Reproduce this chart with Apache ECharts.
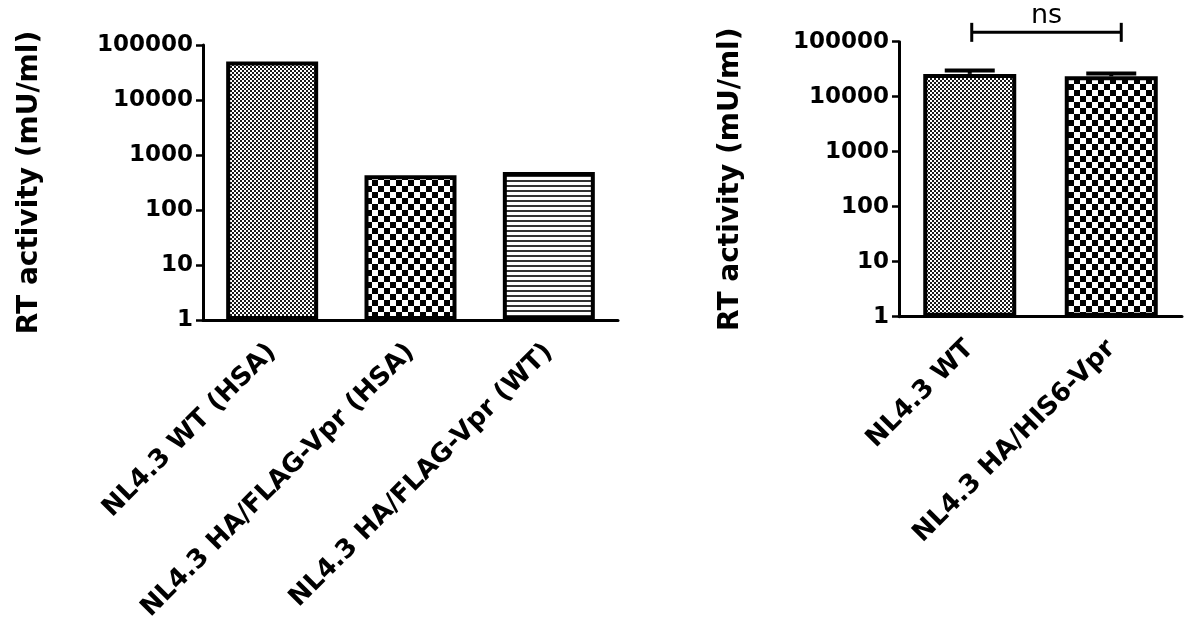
<!DOCTYPE html>
<html>
<head>
<meta charset="utf-8">
<script src="https://cdn.jsdelivr.net/npm/echarts@6/dist/echarts.min.js"></script>
<style>
  html, body { margin: 0; padding: 0; background: #fff; }
  #chart { width: 1185px; height: 626px; }
</style>
</head>
<body>
<div id="chart"></div>
<script>
// data
var leftCategories = ['NL4.3 WT (HSA)', 'NL4.3 HA/FLAG-Vpr (HSA)', 'NL4.3 HA/FLAG-Vpr (WT)'];
var leftValues = [50000, 430, 490];
var rightCategories = ['NL4.3 WT', 'NL4.3 HA/HIS6-Vpr'];
var rightValues = [26000, 23500];
var rightErrorTop = [30000, 26500];
var yTickLabels = ['1', '10', '100', '1000', '10000', '100000'];
var bracketLevel = 148000;
var bracketText = 'ns';
var yName = 'RT activity (mU/ml)';

var FONT = 'DejaVu Sans';

// fill patterns drawn on small canvases
function makeTile(w, h, draw) {
  var c = document.createElement('canvas');
  c.width = w; c.height = h;
  var ctx = c.getContext('2d');
  ctx.fillStyle = '#fff';
  ctx.fillRect(0, 0, w, h);
  draw(ctx);
  return c;
}
var fineChecker = makeTile(4, 4, function (ctx) {
  ctx.fillStyle = '#1a1a1a';
  ctx.fillRect(0, 0, 2, 2);
  ctx.fillRect(2, 2, 2, 2);
});
var coarseChecker = makeTile(12, 12, function (ctx) {
  ctx.fillStyle = '#000';
  ctx.fillRect(0, 0, 6, 6);
  ctx.fillRect(6, 6, 6, 6);
});
var hLines = makeTile(6, 5, function (ctx) {
  ctx.fillStyle = '#333';
  ctx.fillRect(0, 0, 6, 2);
});
function pat(c) { return { image: c, repeat: 'repeat' }; }
var leftPatterns = [fineChecker, coarseChecker, hLines];
var rightPatterns = [fineChecker, coarseChecker];

var chart = echarts.init(document.getElementById('chart'));

function xAxisFor(idx, cats) {
  return {
    type: 'category', gridIndex: idx, data: cats,
    axisLine: { lineStyle: { color: '#000', width: 3 } },
    axisTick: { alignWithLabel: true, length: 8, lineStyle: { color: '#000', width: 2.5 } },
    axisLabel: {
      rotate: 45, margin: 28, interval: 0, color: '#000',
      fontFamily: FONT, fontWeight: 'bold', fontSize: 26
    }
  };
}
function yAxisFor(idx, gap) {
  return {
    type: 'log', logBase: 10, gridIndex: idx, min: 1, max: 100000,
    name: yName, nameLocation: 'middle', nameGap: gap,
    nameTextStyle: { color: '#000', fontFamily: FONT, fontWeight: 'bold', fontSize: 28 },
    axisLine: { show: true, lineStyle: { color: '#000', width: 3 } },
    axisTick: { show: true, length: 7, lineStyle: { color: '#000', width: 2.5 } },
    splitLine: { show: false },
    axisLabel: {
      margin: 10, color: '#000', fontFamily: FONT, fontWeight: 'bold', fontSize: 23,
      formatter: function (v) {
        var i = Math.round(Math.log10(v));
        return yTickLabels[i] !== undefined ? yTickLabels[i] : '';
      }
    }
  };
}

function barData(values, patterns) {
  return values.map(function (v, i) {
    return { value: v, itemStyle: { color: pat(patterns[i]) } };
  });
}

var option = {
  animation: false,
  backgroundColor: '#fff',
  grid: [
    { left: 203, right: 567, top: 45, bottom: 306 },
    { left: 899, right: 3, top: 41.7, bottom: 309.3 }
  ],
  xAxis: [xAxisFor(0, leftCategories), xAxisFor(1, rightCategories)],
  yAxis: [yAxisFor(0, 159), yAxisFor(1, 154)],
  series: [
    {
      type: 'bar', xAxisIndex: 0, yAxisIndex: 0, barWidth: 92,
      itemStyle: { borderColor: '#000', borderWidth: 4 },
      data: barData(leftValues, leftPatterns)
    },
    {
      type: 'bar', xAxisIndex: 1, yAxisIndex: 1, barWidth: 93,
      itemStyle: { borderColor: '#000', borderWidth: 4 },
      data: barData(rightValues, rightPatterns)
    },
    {
      // upper error bars
      type: 'custom', xAxisIndex: 1, yAxisIndex: 1, z: 5,
      data: rightValues.map(function (v, i) { return [i, v, rightErrorTop[i]]; }),
      renderItem: function (params, api) {
        var base = api.coord([api.value(0), api.value(1)]);
        var top = api.coord([api.value(0), api.value(2)]);
        var st = { stroke: '#000', lineWidth: 4 };
        return {
          type: 'group',
          children: [
            { type: 'line', shape: { x1: top[0], y1: base[1], x2: top[0], y2: top[1] }, style: st },
            { type: 'line', shape: { x1: top[0] - 25, y1: top[1], x2: top[0] + 25, y2: top[1] }, style: st }
          ]
        };
      }
    },
    {
      // significance bracket
      type: 'custom', xAxisIndex: 1, yAxisIndex: 1, z: 5, clip: false,
      data: [[0, 1, bracketLevel]],
      renderItem: function (params, api) {
        var a = api.coord([api.value(0), api.value(2)]);
        var b = api.coord([api.value(1), api.value(2)]);
        var x1 = a[0] + 2, x2 = b[0] + 10, y = a[1];
        var st = { stroke: '#000', lineWidth: 3 };
        return {
          type: 'group',
          children: [
            { type: 'line', shape: { x1: x1, y1: y, x2: x2, y2: y }, style: st },
            { type: 'line', shape: { x1: x1, y1: y - 9.5, x2: x1, y2: y + 9.5 }, style: st },
            { type: 'line', shape: { x1: x2, y1: y - 9.5, x2: x2, y2: y + 9.5 }, style: st },
            {
              type: 'text',
              style: {
                text: bracketText, x: (x1 + x2) / 2, y: y - 3,
                textAlign: 'center', textVerticalAlign: 'bottom',
                fill: '#000', font: '27px "' + FONT + '"'
              }
            }
          ]
        };
      }
    }
  ]
};
chart.setOption(option);
</script>
</body>
</html>
